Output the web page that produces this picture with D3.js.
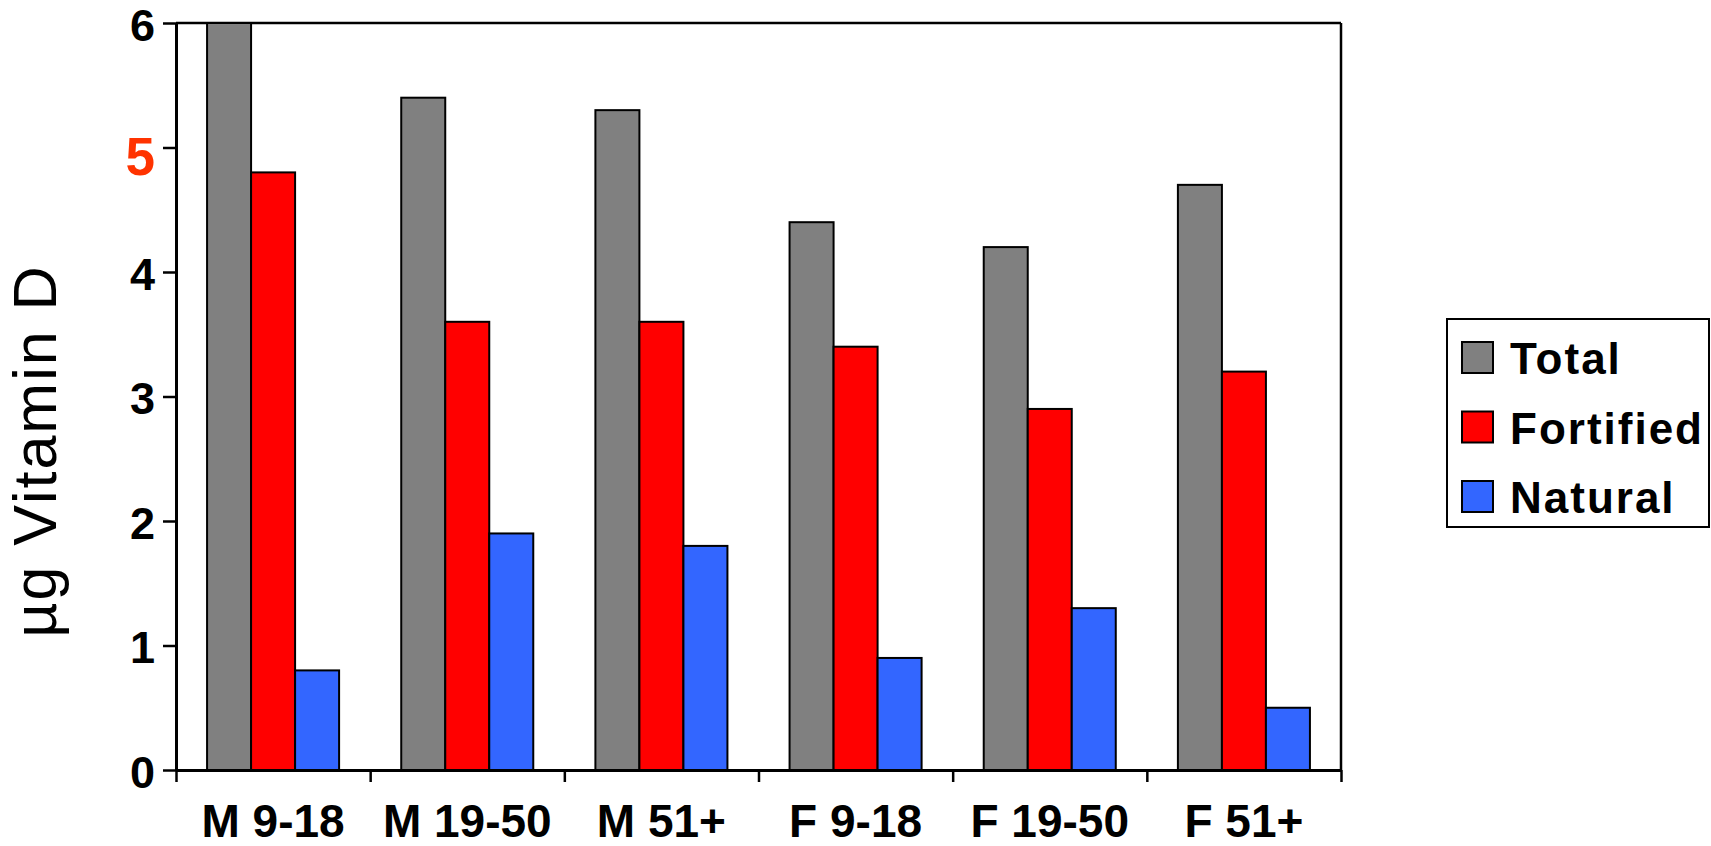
<!DOCTYPE html>
<html>
<head>
<meta charset="utf-8">
<script src="https://cdn.jsdelivr.net/npm/d3@7"></script>
<style>
  html, body { margin: 0; padding: 0; background: #fff; }
  svg { display: block; font-family: "Liberation Sans", Arial, sans-serif; }
</style>
</head>
<body>
<div id="chart"></div>
<script>
// Chart data
const groups = ["M 9-18", "M 19-50", "M 51+", "F 9-18", "F 19-50", "F 51+"];
const seriesNames = ["Total", "Fortified", "Natural"];
const totalValues = [6.0, 5.4, 5.3, 4.4, 4.2, 4.7];
const fortifiedValues = [4.8, 3.6, 3.6, 3.4, 2.9, 3.2];
const naturalValues = [0.8, 1.9, 1.8, 0.9, 1.3, 0.5];
const yTicks = [0, 1, 2, 3, 4, 5, 6];
const seriesColors = ["#808080", "#ff0000", "#3366ff"];

const seriesValues = [totalValues, fortifiedValues, naturalValues];

// Dimensions
const fullWidth = 1711, fullHeight = 846;
const margin = { top: 23, left: 176 };
const width = 1165;
const height = 747;

const svg = d3.select("#chart")
    .append("svg")
    .attr("width", fullWidth)
    .attr("height", fullHeight);

const g = svg.append("g")
    .attr("transform", `translate(${margin.left},${margin.top})`);

// Scales
const x0 = d3.scaleBand()
    .domain(groups)
    .range([0, width])
    .paddingInner(0.32)
    .paddingOuter(0.16);

const x1 = d3.scaleBand()
    .domain(seriesNames)
    .range([0, x0.bandwidth()])
    .padding(0);

const y = d3.scaleLinear()
    .domain([0, 6])
    .range([height, 0]);

// boundaries between categories, for the bottom tick marks
const xEdges = d3.scaleLinear()
    .domain([0, groups.length])
    .range([0, width]);

// Plot frame (top and right)
g.append("line")
    .attr("x1", 0).attr("x2", width)
    .attr("y1", 0).attr("y2", 0)
    .attr("stroke", "#000").attr("stroke-width", 2.5);
g.append("line")
    .attr("x1", width).attr("x2", width)
    .attr("y1", 0).attr("y2", height)
    .attr("stroke", "#000").attr("stroke-width", 2.5);

// Bars
const barData = [];
groups.forEach((grp, i) => {
    seriesNames.forEach((s, j) => {
        barData.push({ group: grp, series: s, value: seriesValues[j][i], color: seriesColors[j] });
    });
});

g.selectAll(".bar")
    .data(barData)
    .enter()
    .append("rect")
    .attr("class", "bar")
    .attr("x", d => x0(d.group) + x1(d.series))
    .attr("y", d => y(d.value))
    .attr("width", x1.bandwidth())
    .attr("height", d => height - y(d.value))
    .attr("fill", d => d.color)
    .attr("stroke", "#000")
    .attr("stroke-width", 2);

// Y axis
const yAxis = g.append("g")
    .attr("class", "y-axis")
    .call(d3.axisLeft(y)
        .tickValues(yTicks)
        .tickFormat(d3.format("d"))
        .tickSize(13)
        .tickPadding(8)
        .tickSizeOuter(0));

yAxis.select(".domain").attr("stroke-width", 3);
yAxis.selectAll(".tick line").attr("stroke-width", 2.5);
yAxis.selectAll(".tick text")
    .attr("fill", "#000")
    .attr("font-size", 45)
    .attr("font-weight", "bold")
    .attr("font-family", "'Liberation Sans', Arial, sans-serif")
    .attr("dy", "0.38em");

// the highlighted "5"
yAxis.selectAll(".tick text")
    .filter(d => d === 5)
    .attr("fill", "#ff3300")
    .attr("font-size", 53)
    .attr("dy", "0.5em");

// X axis: ticks at category boundaries
const xAxis = g.append("g")
    .attr("class", "x-axis")
    .attr("transform", `translate(0,${height})`)
    .call(d3.axisBottom(xEdges).tickValues(d3.range(groups.length + 1)).tickFormat("").tickSize(12).tickSizeOuter(0));

xAxis.select(".domain").attr("stroke-width", 3);
xAxis.selectAll(".tick line").attr("stroke-width", 2.5);

// X labels
const xLabels = g.append("g")
    .attr("class", "x-labels")
    .attr("transform", `translate(0,${height})`)
    .call(d3.axisBottom(x0).tickSize(0).tickPadding(0));

xLabels.select(".domain").remove();
xLabels.selectAll(".tick text")
    .attr("fill", "#000")
    .attr("font-size", 46)
    .attr("font-weight", "bold")
    .attr("font-family", "'Liberation Sans', Arial, sans-serif")
    .attr("dy", null)
    .attr("y", 67);

// Y axis title
svg.append("text")
    .attr("transform", "translate(56,451) rotate(-90)")
    .attr("text-anchor", "middle")
    .attr("font-size", 61)
    .attr("letter-spacing", 2)
    .attr("fill", "#000")
    .text("µg Vitamin D");

// Legend
const legend = svg.append("g")
    .attr("class", "legend")
    .attr("transform", "translate(1447,319)");

legend.append("rect")
    .attr("width", 262)
    .attr("height", 208)
    .attr("fill", "#fff")
    .attr("stroke", "#000")
    .attr("stroke-width", 2);

const items = legend.selectAll(".item")
    .data(seriesNames)
    .enter()
    .append("g")
    .attr("class", "item")
    .attr("transform", (d, i) => `translate(0,${23 + i * 69.5})`);

items.append("rect")
    .attr("x", 15)
    .attr("width", 31)
    .attr("height", 31)
    .attr("fill", (d, i) => seriesColors[i])
    .attr("stroke", "#000")
    .attr("stroke-width", 2);

items.append("text")
    .attr("x", 63)
    .attr("y", 32)
    .attr("font-size", 44)
    .attr("font-weight", "bold")
    .attr("letter-spacing", 2)
    .attr("fill", "#000")
    .text(d => d);
</script>
</body>
</html>
